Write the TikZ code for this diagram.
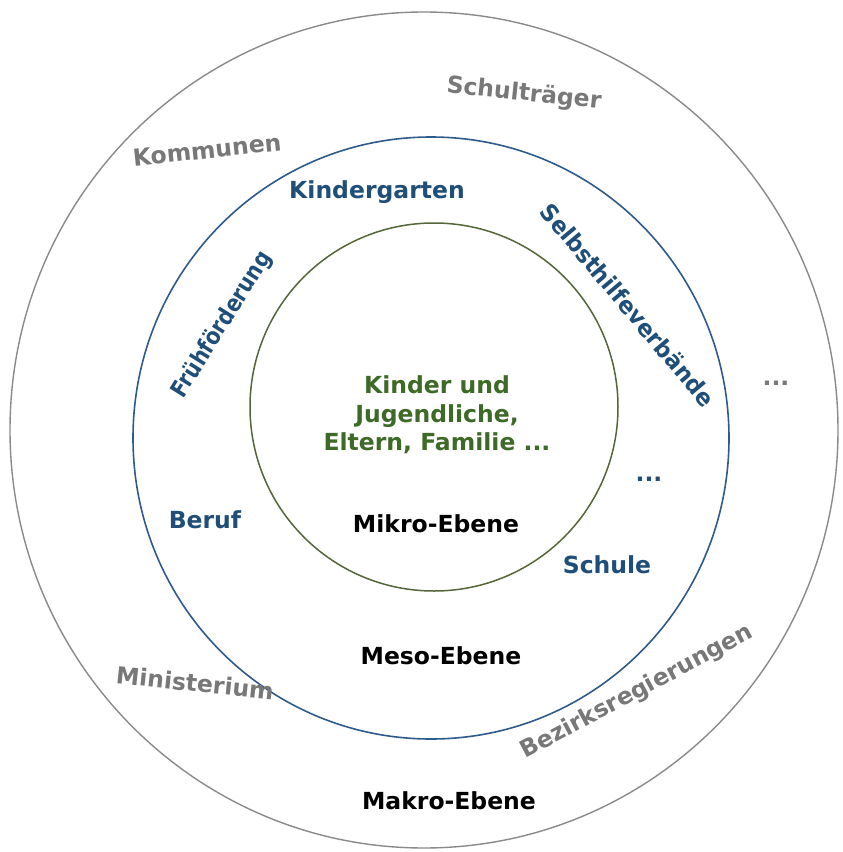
\documentclass[tikz,border=0pt]{standalone}
\usepackage{fontspec}
\setmainfont{DejaVu Sans}
\definecolor{ringgray}{HTML}{8A8A8A}
\definecolor{ringblue}{HTML}{2F5B8C}
\definecolor{ringgreen}{HTML}{55663A}
\definecolor{txtgray}{HTML}{787878}
\definecolor{txtblue}{HTML}{1F4E79}
\definecolor{txtgreen}{HTML}{3E6A27}
\tikzset{
  lbl/.style={inner sep=0pt, font=\bfseries\fontsize{23.5}{28.5}\selectfont, align=center},
  macro/.style={lbl, text=txtgray},
  meso/.style={lbl, text=txtblue},
  micro/.style={lbl, text=txtgreen},
  level/.style={lbl, text=black},
}
\begin{document}
\begin{tikzpicture}[x=1pt,y=-1pt]
\useasboundingbox[fill=white] (0,0) rectangle (843,852);
% rings: macro, meso, micro
\draw[ringgray, line width=1.4pt] (424,430) ellipse [x radius=414, y radius=418];
\draw[ringblue, line width=1.6pt] (431,438) ellipse [x radius=298, y radius=301];
\draw[ringgreen, line width=1.5pt] (434,407) circle [radius=184];
% macro level
\node[macro, rotate=-6] (schultraeger) at (524,94) {Schulträger};
\node[macro, rotate=6] (kommunen) at (207,150) {Kommunen};
\node[macro] (dotsout) at (776,383) {...};
\node[macro, rotate=-6] (ministerium) at (195,683) {Ministerium};
\node[macro, rotate=28] (bezirk) at (637,692) {Bezirksregierungen};
\node[level] (makro) at (449,801) {Makro-Ebene};
% meso level
\node[meso] (kiga) at (377,192) {Kindergarten};
\node[meso, rotate=-50, xscale=0.96] (selbsthilfe) at (628,305) {Selbsthilfeverbände};
\node[meso, rotate=58, xscale=0.87] (fruehfoerderung) at (222,325) {Frühförderung};
\node[meso] (dotsin) at (649,479) {...};
\node[meso] (beruf) at (205,520) {Beruf};
\node[meso] (schule) at (607,565) {Schule};
\node[level] (meso) at (441,656) {Meso-Ebene};
% micro level
\node[micro] (kinder) at (437,415) {Kinder und\\Jugendliche,\\Eltern, Familie ...};
\node[level] (mikro) at (436,524) {Mikro-Ebene};
\end{tikzpicture}
\end{document}
